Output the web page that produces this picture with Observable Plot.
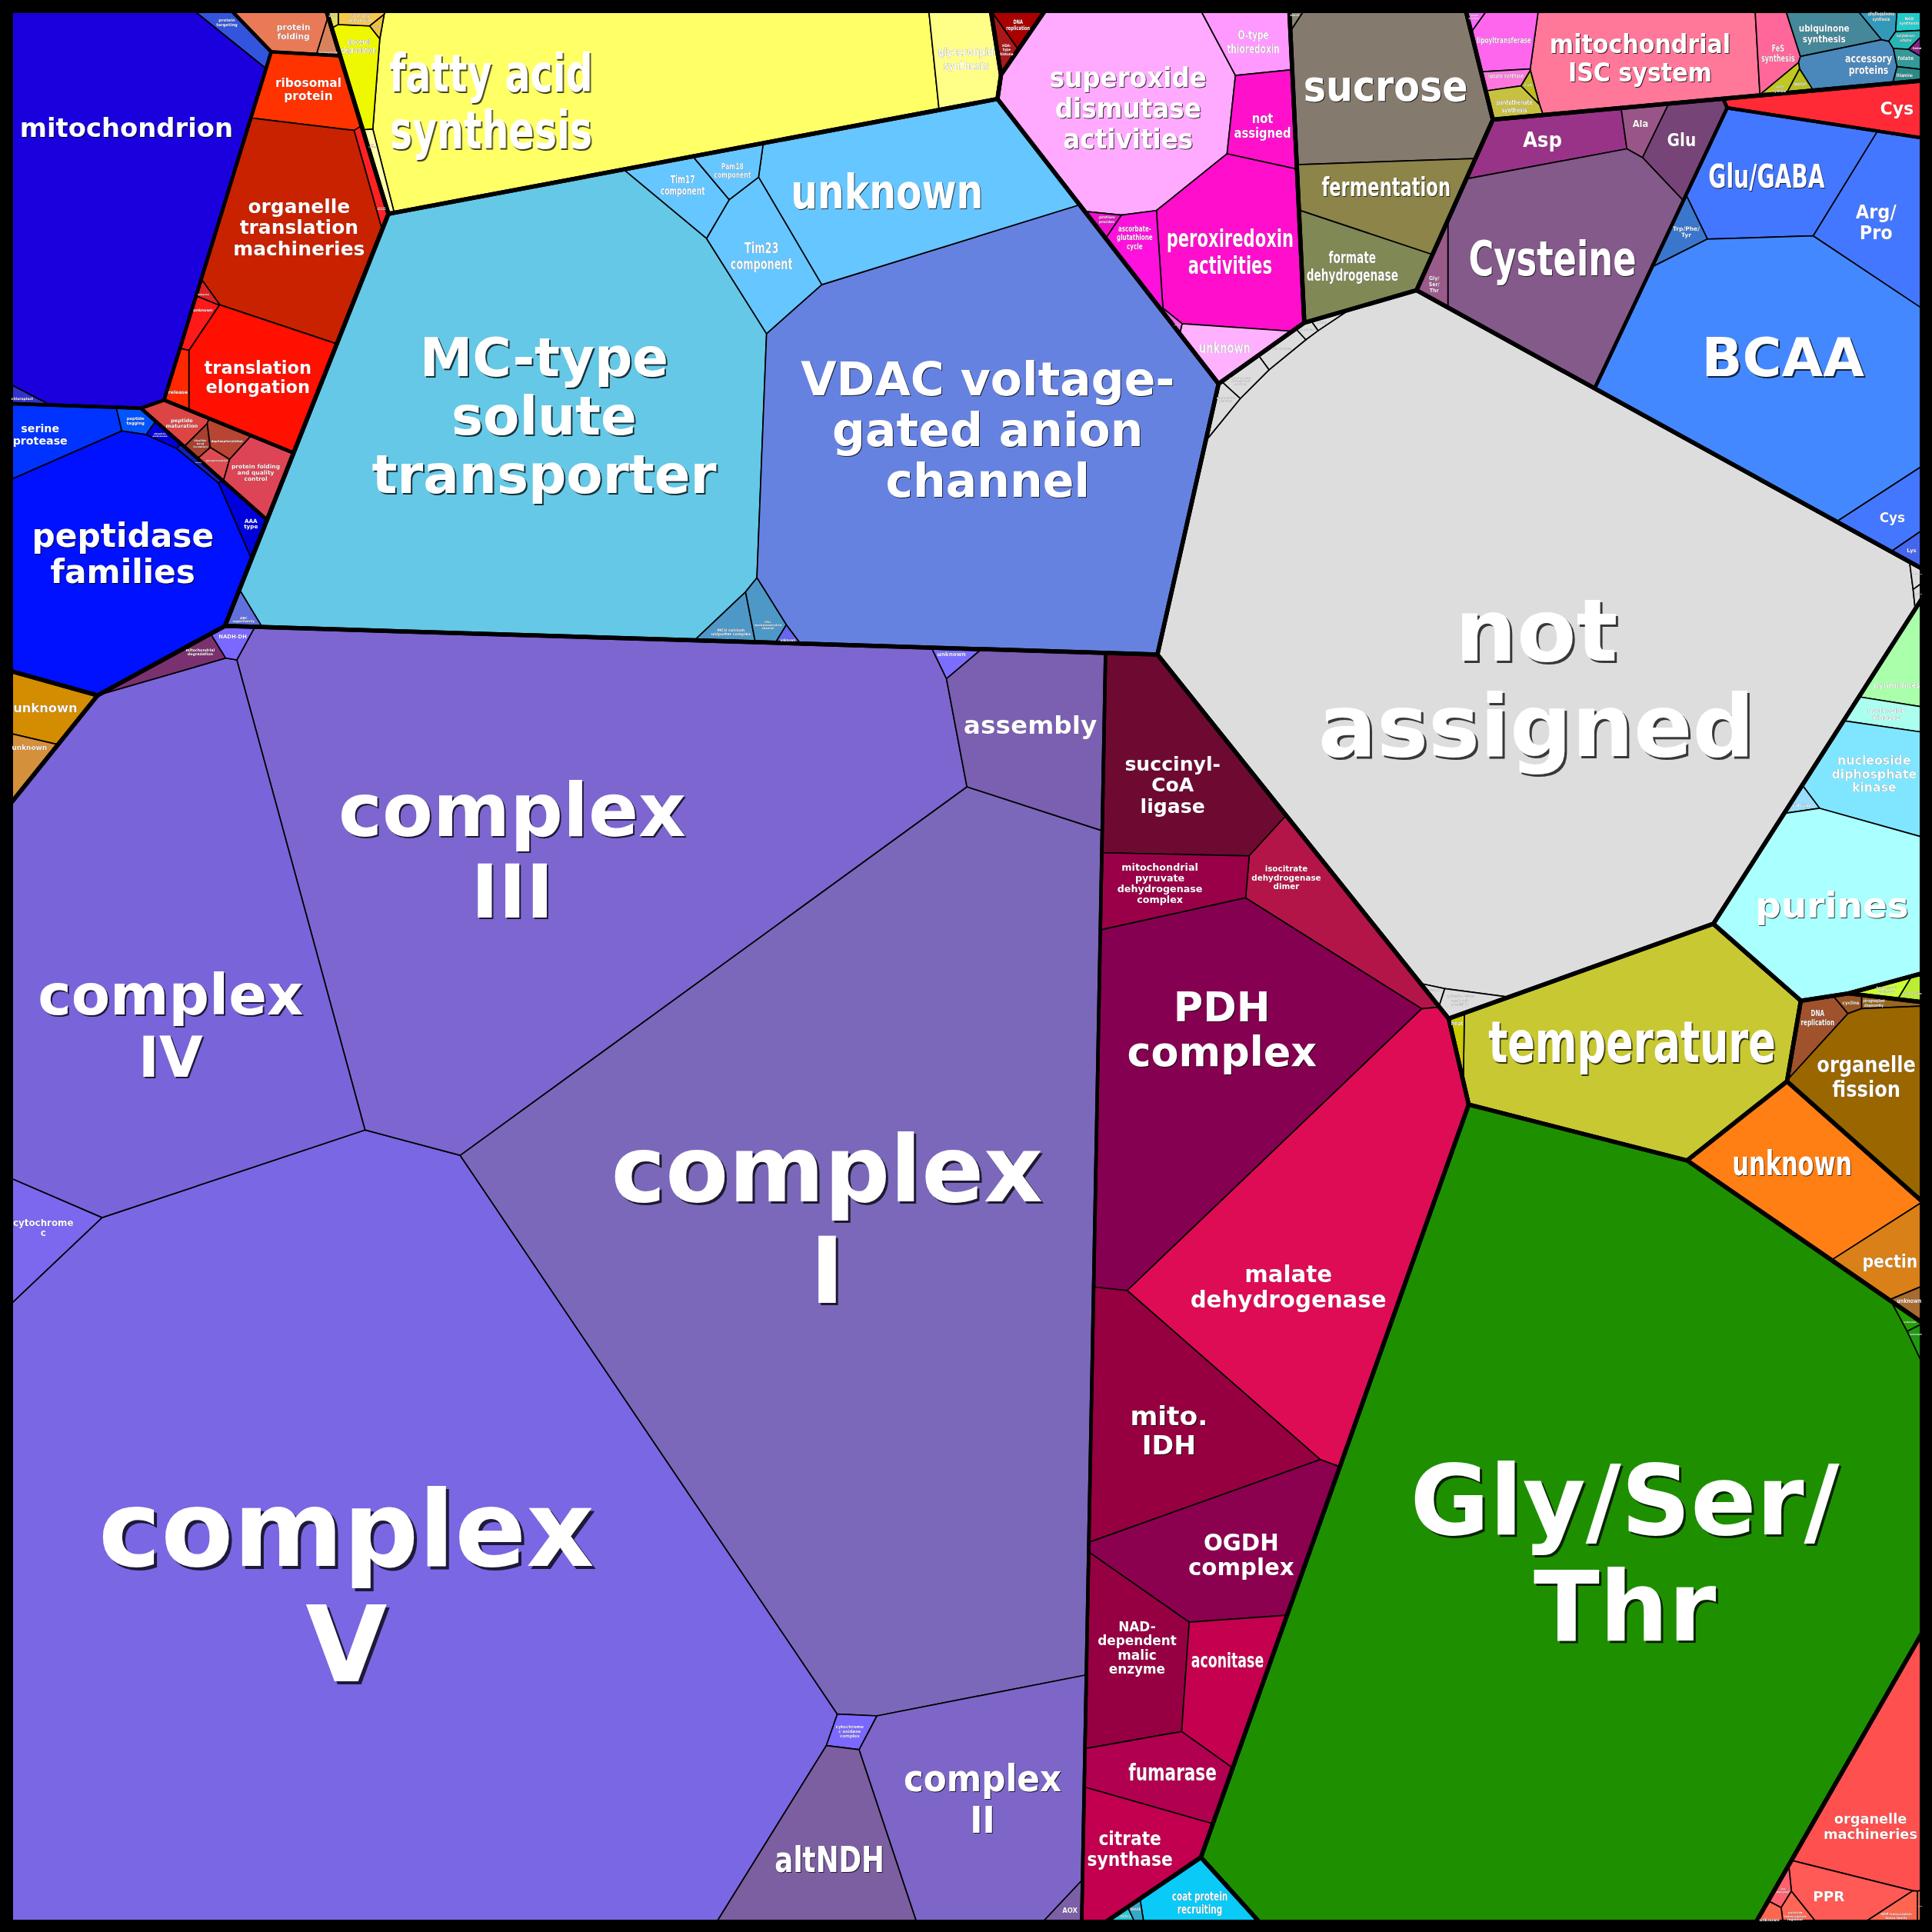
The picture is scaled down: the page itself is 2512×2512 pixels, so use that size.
<!DOCTYPE html>
<html>
<head>
<meta charset="utf-8">
<script src="https://cdn.jsdelivr.net/npm/d3@7"></script>
<script src="https://cdn.jsdelivr.net/npm/@observablehq/plot@0.6"></script>
<style>
  html, body { margin: 0; padding: 0; background: #000; }
  #chart { width: 2512px; height: 2512px; }
</style>
</head>
<body>
<div id="chart"></div>
<script>
// ---------------- DATA ----------------
// top-level sectors and their layout seeds (chart units 8..1561)
const sectors = ["protein","unknown","solute transport","lipid metabolism","chromatin organisation","redox homeostasis","carbohydrate metabolism","coenzyme metabolism","amino acid metabolism","not assigned","nucleotide metabolism","external stimuli response","cell cycle organisation","secondary metabolism","cell wall organisation","photorespiration","RNA processing","vesicle trafficking","cellular respiration"];
const sectorSeeds = [[141,190],[33,576],[620,380],[560,62],[812,22],[955,120],[1122,112],[1380,48],[1397,235],[1240,520],[1505,690],[1360,855],[1535,885],[1542,826],[1455,975],[1255,1265],[1525,1420],[947,1543],[600,1032]];

// second-level groups: [sector, group]
const groups = [
  ["protein","protein targeting"],["protein","protein folding"],["protein","protein biosynthesis"],["protein","protein modification"],["protein","protein homeostasis"],
  ["unknown","unknown"],["solute transport","solute transport"],["lipid metabolism","lipid metabolism"],["chromatin organisation","chromatin organisation"],
  ["redox homeostasis","redox homeostasis"],["carbohydrate metabolism","carbohydrate metabolism"],["coenzyme metabolism","coenzyme metabolism"],
  ["amino acid metabolism","Cys degradation"],["amino acid metabolism","amino acid biosynthesis"],["amino acid metabolism","amino acid degradation"],
  ["not assigned","not assigned"],["nucleotide metabolism","nucleotide metabolism"],["external stimuli response","temperature"],
  ["cell cycle organisation","cell cycle organisation"],["secondary metabolism","secondary metabolism"],["cell wall organisation","cell wall organisation"],
  ["photorespiration","photorespiration"],["RNA processing","RNA processing"],["vesicle trafficking","vesicle trafficking"],
  ["cellular respiration","TCA cycle"],["cellular respiration","oxidative phosphorylation"]
];
const groupSeeds = [[105,160],[245,25],[235,200],[173,352],[95,440],[33,576],[620,380],[560,62],[812,22],[955,120],[1122,112],[1380,48],[1482,95],[1275,185],[1455,270],[1240,520],[1505,690],[1360,855],[1535,885],[1542,826],[1455,975],[1255,1265],[1525,1420],[947,1543],[985,1050],[453,1040]];

// leaves: [group, label, value]
const leaves = [
  ["protein targeting","mitochondrion",53.2],["protein targeting","protein\ntargeting",1.0],["protein targeting","chloroplast",0.25],
  ["protein folding","protein\nfolding",2.0],["protein folding","co-chaperone",0.3],
  ["protein biosynthesis","ribosomal\nprotein",4.2],["protein biosynthesis","organelle\ntranslation\nmachineries",18.8],["protein biosynthesis","cytosolic\nribosome",0.6],["protein biosynthesis","translation\nelongation",9.4],["protein biosynthesis","release",0.65],["protein biosynthesis","unknown",0.6],["protein biosynthesis","initiation",0.15],
  ["protein modification","peptide\nmaturation",1.0],["protein modification","disulfide\nbond\nformation",0.3],["protein modification","dephosphorylation",0.65],["protein modification","phosphorylation",0.35],["protein modification","protein folding\nand quality\ncontrol",2.2],
  ["protein homeostasis","serine\nprotease",3.6],["protein homeostasis","peptide\ntagging",0.5],["protein homeostasis","ubiquitin-\nproteasome",0.25],["protein homeostasis","autophagy",0.2],["protein homeostasis","AAA\ntype",0.9],["protein homeostasis","peptidase\nfamilies",31.5],
  ["unknown","unknown",2.7],["unknown","unknown",1.1],
  ["solute transport","MC-type\nsolute\ntransporter",125.5],["solute transport","VDAC voltage-\ngated anion\nchannel",108.0],["solute transport","unknown",23.7],["solute transport","Tim23\ncomponent",6.0],["solute transport","Tim17\ncomponent",2.7],["solute transport","Pam18\ncomponent",1.45],["solute transport","MCU calcium\nuniporter complex",1.0],["solute transport","MSL\nmechanosensitive\nchannel",1.0],["solute transport","unknown",0.15],["solute transport","ABC\nsuperfamily",0.45],
  ["lipid metabolism","fatty acid\nsynthesis",55.5],["lipid metabolism","glycerolipid\nsynthesis",3.9],["lipid metabolism","glycerol\ndegradation",2.0],["lipid metabolism","fatty acid\ndegradation",0.4],["lipid metabolism","lipid\ntrafficking",0.45],["lipid metabolism","phospholipid",0.1],["lipid metabolism","sterol",0.1],
  ["chromatin organisation","DNA\nreplication",0.7],["chromatin organisation","HDA-\ntype\nhistone",0.45],
  ["redox homeostasis","superoxide\ndismutase\nactivities",24.5],["redox homeostasis","O-type\nthioredoxin",3.0],["redox homeostasis","not\nassigned",3.7],["redox homeostasis","peroxiredoxin\nactivities",14.3],["redox homeostasis","ascorbate-\nglutathione\ncycle",2.0],["redox homeostasis","glutathione\nperoxidase",0.3],["redox homeostasis","unknown",2.25],["redox homeostasis","glutaredoxin",0.1],
  ["carbohydrate metabolism","sucrose",18.5],["carbohydrate metabolism","fermentation",7.5],["carbohydrate metabolism","formate\ndehydrogenase",6.0],["carbohydrate metabolism","starch",0.1],
  ["coenzyme metabolism","mitochondrial\nISC system",13.9],["coenzyme metabolism","FeS\nsynthesis",1.7],["coenzyme metabolism","ubiquinone\nsynthesis",2.0],["coenzyme metabolism","accessory\nproteins",2.4],["coenzyme metabolism","biotin\nsynthase",0.3],["coenzyme metabolism","biotin",0.2],["coenzyme metabolism","phylloquinone\nsynthesis",0.5],["coenzyme metabolism","NAD\nsynthesis",0.35],["coenzyme metabolism","molybdenum\ncofactor",0.3],["coenzyme metabolism","folate",0.3],["coenzyme metabolism","thiamine",0.25],["coenzyme metabolism","lipoyltransferase",2.25],["coenzyme metabolism","lipoate\nsynthesis",0.15],["coenzyme metabolism","lipoate synthase",0.5],["coenzyme metabolism","pantothenate\nsynthesis",0.9],["coenzyme metabolism","CoA",0.15],["coenzyme metabolism","heme",0.1],
  ["Cys degradation","Cys",4.3],
  ["amino acid biosynthesis","Asp",4.6],["amino acid biosynthesis","Ala",1.0],["amino acid biosynthesis","Glu",3.1],["amino acid biosynthesis","Cysteine",24.6],["amino acid biosynthesis","Gly/\nSer/\nThr",0.9],
  ["amino acid degradation","Glu/GABA",11.4],["amino acid degradation","Arg/\nPro",7.8],["amino acid degradation","Trp/Phe/\nTyr",1.0],["amino acid degradation","BCAA",42.5],["amino acid degradation","Cys",2.5],["amino acid degradation","Lys",0.4],
  ["not assigned","not\nassigned",224.0],["not assigned","enzyme\nclassification",0.15],["not assigned","annotated",0.15],["not assigned","unknown",0.5],["not assigned","cytoskeleton\nassociated\nprotein",0.6],["not assigned","membrane\nprotein",0.5],["not assigned","cytoskeleton\nand cell\nmotility",0.7],["not assigned","kinase",0.15],["not assigned","transferase",0.15],["not assigned","hydrolase",0.1],
  ["nucleotide metabolism","pyrimidines",2.27],["nucleotide metabolism","nucleoside\nkinases",1.2],["nucleotide metabolism","nucleoside\ndiphosphate\nkinase",6.57],["nucleotide metabolism","salvage",0.3],["nucleotide metabolism","purines",19.4],
  ["temperature","temperature",34.9],["temperature","heat",0.35],
  ["cell cycle organisation","DNA\nreplication",1.5],["cell cycle organisation","cyclins",0.25],["cell cycle organisation","phragmoplast\ndisassembly",0.35],["cell cycle organisation","organelle\nfission",10.3],
  ["secondary metabolism","terpenoid\npathway",0.4],["secondary metabolism","isoprenoids",0.3],
  ["cell wall organisation","unknown",13.2],["cell wall organisation","pectin",3.2],["cell wall organisation","unknown",0.4],
  ["photorespiration","Gly/Ser/\nThr",278.3],["photorespiration","unknown",0.2],["photorespiration","unknown",0.2],
  ["RNA processing","organelle\nmachineries",11.2],["RNA processing","PPR",3.0],["RNA processing","not\nassigned",0.3],["RNA processing","putative\ntranscription\nregulator",0.4],["RNA processing","bZIP transcription\nfactor family",0.6],["RNA processing","unknown",0.25],["RNA processing","RNA editing",0.1],
  ["vesicle trafficking","coat protein\nrecruiting",3.0],["vesicle trafficking","clathrin",0.15],["vesicle trafficking","SNARE",0.15],
  ["TCA cycle","succinyl-\nCoA\nligase",16.7],["TCA cycle","isocitrate\ndehydrogenase\ndimer",7.9],["TCA cycle","mitochondrial\npyruvate\ndehydrogenase\ncomplex",5.7],["TCA cycle","PDH\ncomplex",48.4],["TCA cycle","malate\ndehydrogenase",47.7],["TCA cycle","mito.\nIDH",20.9],["TCA cycle","OGDH\ncomplex",15.1],["TCA cycle","NAD-\ndependent\nmalic\nenzyme",10.0],["TCA cycle","aconitase",6.7],["TCA cycle","fumarase",5.9],["TCA cycle","citrate\nsynthase",7.3],
  ["oxidative phosphorylation","complex\nV",330.5],["oxidative phosphorylation","complex\nI",250.9],["oxidative phosphorylation","complex\nIII",162.6],["oxidative phosphorylation","complex\nIV",94.7],["oxidative phosphorylation","cytochrome\nc",3.8],["oxidative phosphorylation","mitochondrial\ndegradation",1.2],["oxidative phosphorylation","NADH-DH",0.6],["oxidative phosphorylation","assembly",15.0],["oxidative phosphorylation","unknown",0.5],["oxidative phosphorylation","cytochrome\nc oxidase\ncomplex",0.8],["oxidative phosphorylation","altNDH",13.4],["oxidative phosphorylation","complex\nII",29.2],["oxidative phosphorylation","AOX",0.55]
];

// layout seeds of the leaves (same order as leaves)
const leafSeeds = [
  [100,165],[210,28],[20,318],
  [240,24],[266,32],
  [258,77],[245,185],[316,165],[205,305],[145,305],[153,270],[164,243],
  [135,327],[152,344],[176,341],[165,359],[210,372],
  [50,352],[113,337],[140,356],[162,374],[199,410],[95,455],
  [33,565],[22,612],
  [420,360],[800,375],[735,165],[655,212],[580,168],[605,147],[561,509],[597,502],[615,513],[186,502],
  [520,75],[780,48],[300,58],[302,14],[305,130],[323,40],[276,14],
  [832,18],[812,32],
  [915,88],[1020,32],[1027,100],[1005,200],[930,205],[905,188],[1000,272],[955,262],
  [1132,62],[1135,150],[1115,210],[1056,12],
  [1350,48],[1455,42],[1505,26],[1512,60],[1475,66],[1490,74],[1522,12],[1552,14],[1553,34],[1552,52],[1550,70],[1235,32],[1210,14],[1237,65],[1240,86],[1252,74],[1559,40],
  [1482,95],
  [1262,116],[1340,105],[1375,122],[1280,212],[1182,212],
  [1445,152],[1528,203],[1381,183],[1450,320],[1528,440],[1550,472],
  [1240,522],[1061,256],[1050,264],[1038,275],[1012,294],[990,318],[1200,823],[1178,816],[1548,482],[1553,489],
  [1545,522],[1537,572],[1530,620],[1482,656],[1495,745],
  [1315,862],[1192,860],
  [1465,858],[1494,834],[1519,834],[1522,910],
  [1535,822],[1553,833],
  [1480,972],[1535,1058],[1550,1094],
  [1275,1250],[1548,1104],[1555,1118],
  [1530,1430],[1505,1530],[1456,1535],[1480,1550],[1520,1553],[1446,1554],[1557,1553],
  [950,1540],[893,1553],[906,1547],
  [945,605],[1060,710],[943,700],[975,845],[1085,960],[945,1120],[985,1232],[920,1325],[992,1330],[935,1410],[915,1480],
  [300,1280],[700,1010],[460,680],[130,770],[32,997],[75,580],[170,521],[830,610],[765,533],[682,1413],[670,1510],[790,1470],[873,1548]
];

// fill colours (same order as leaves)
const leafColors = [
  "#1A00DD","#3355DD","#3333CC",
  "#E87A58","#D9825E",
  "#FF3300","#C82200","#FF2222","#FF1000","#FF2800","#FF1A1A","#DD2222",
  "#DD4444","#A84030","#B84433","#DD4A50","#DD4455",
  "#0033FF","#0055FF","#0000DD","#1122BB","#0000DD","#0011FF",
  "#D48C00","#D4903A",
  "#64C8E6","#6682E0","#66C6FF","#66C6FF","#66C6FF","#66C6FF","#4E98C8","#4E98C8","#6666EE","#6070DD",
  "#FFFF66","#FFFF88","#EEF800","#F8C848","#FFFFAA","#F0C040","#E0E060",
  "#AA0000","#AA1818",
  "#FFAAFF","#FF99FF","#FF11CC","#FF0ECC","#FF11DD","#EE11CC","#FFB0FF","#FF66EE",
  "#857A6E","#8C8448","#808855","#888877",
  "#FF7799","#FF6699","#448899","#4A88BB","#C0C820","#B8C020","#3399BB","#22CCCC","#2AB5B5","#339999","#2A8A8A","#FF66EE","#FF66FF","#FF77DD","#C8C040","#BBBB22","#882288",
  "#FF2A35",
  "#993388","#995588","#774477","#835A8A","#9A5A8A",
  "#4477FF","#4477FF","#3A77CC","#4488FF","#4477FF","#4466EE",
  "#DDDDDD","#DDDDDD","#DDDDDD","#DDDDDD","#DDDDDD","#DDDDDD","#DDDDDD","#DDDDDD","#DDDDDD","#DDDDDD",
  "#AAFFAA","#AAFFEE","#80E6FF","#99DDFF","#AAFFFF",
  "#C8C832","#CCCC00",
  "#A0522D","#995522","#996620","#996600",
  "#CCFF33","#BBEE33",
  "#FF7F15","#D98018","#A86A30",
  "#1E9000","#22A000","#1E9A10",
  "#FF5050","#FF5A55","#FF6070","#FF6655","#FF6650","#FF6650","#FF7755",
  "#0ACAF8","#22CCDD","#33AACC",
  "#6E0A32","#B41548","#9A0048","#850050","#DD0C55","#960040","#8C0050","#960042","#C4004F","#B0004F","#C2004F",
  "#7A67E3","#7B68BB","#7D66D0","#7A64DA","#7B68EE","#7B3170","#7B68FF","#7B5FB0","#7B6EFF","#7B68FF","#7B5FA0","#7D66C8","#7B60A8"
];

// label styling: which labels use the condensed face
const condensedGroups = new Set(["lipid metabolism","redox homeostasis","carbohydrate metabolism","coenzyme metabolism","amino acid biosynthesis","temperature","cell cycle organisation","cell wall organisation","vesicle trafficking","chromatin organisation"]);
const condensedLeaves = new Set(["solute transport|unknown","solute transport|Tim23\ncomponent","solute transport|Tim17\ncomponent","solute transport|Pam18\ncomponent","TCA cycle|fumarase","TCA cycle|citrate\nsynthase","TCA cycle|aconitase","oxidative phosphorylation|altNDH","oxidative phosphorylation|complex\nII","oxidative phosphorylation|AOX","amino acid degradation|Glu/GABA","amino acid degradation|Arg/\nPro"]);
const LINE_H = 1.1;

// ---------------- VORONOI (power diagram) TREEMAP LAYOUT ----------------
const LO = 8, HI = 1561;
const K = 2486 / (HI - LO); // chart unit -> pixel

function polyArea(P) { let s = 0; for (let i = 0; i < P.length; i++) { const p = P[i], q = P[(i + 1) % P.length]; s += p.x * q.y - q.x * p.y; } return s / 2; }
function polyCentroid(P) {
  let a = 0, cx = 0, cy = 0;
  for (let i = 0; i < P.length; i++) { const p = P[i], q = P[(i + 1) % P.length]; const f = p.x * q.y - q.x * p.y; a += f; cx += (p.x + q.x) * f; cy += (p.y + q.y) * f; }
  a /= 2; if (Math.abs(a) < 1e-12) return {x: P[0].x, y: P[0].y};
  return {x: cx / (6 * a), y: cy / (6 * a)};
}
function clipPoly(P, a, b, c, id) {
  const out = [], n = P.length;
  for (let i = 0; i < n; i++) {
    const p = P[i], q = P[(i + 1) % n];
    const fp = a * p.x + b * p.y - c, fq = a * q.x + b * q.y - c;
    if (fp <= 0) {
      out.push(p);
      if (fq > 0) { const t = fp / (fp - fq); out.push({x: p.x + t * (q.x - p.x), y: p.y + t * (q.y - p.y), e: id}); }
    } else if (fq <= 0) {
      const t = fp / (fp - fq); out.push({x: p.x + t * (q.x - p.x), y: p.y + t * (q.y - p.y), e: p.e});
    }
  }
  return out;
}
function powerCells(S, W, base) {
  const n = S.length, out = new Array(n);
  for (let i = 0; i < n; i++) {
    let P = base; const sx = S[i][0], sy = S[i][1], s2 = sx * sx + sy * sy;
    for (let j = 0; j < n && P.length; j++) {
      if (j === i) continue;
      const tx = S[j][0], ty = S[j][1];
      const a = 2 * (tx - sx), b = 2 * (ty - sy);
      if (a === 0 && b === 0) continue;
      P = clipPoly(P, a, b, tx * tx + ty * ty - s2 - W[j] + W[i], j);
    }
    out[i] = P;
  }
  return out;
}
// adapt weights so that each cell's area matches its value
function solve(S, T, B, iters) {
  const n = S.length;
  const base = (B || []).map(p => ({x: p.x, y: p.y, e: -1}));
  if (n === 0) return [];
  if (base.length < 3) return S.map(() => []);
  if (n === 1) return [base];
  const A0 = Math.abs(polyArea(base)), ts = T.reduce((a, b) => a + b, 0);
  const tgt = T.map(t => t * A0 / ts);
  const W = new Float64Array(n);
  let cells;
  for (let it = 0; it <= iters; it++) {
    cells = powerCells(S, W, base);
    if (it === iters) break;
    const dW = new Float64Array(n);
    for (let i = 0; i < n; i++) {
      const P = cells[i];
      const A = P.length >= 3 ? Math.abs(polyArea(P)) : 0;
      if (A < 1e-7) {
        let m = -Infinity;
        for (let j = 0; j < n; j++) if (j !== i) m = Math.max(m, W[j] - ((S[i][0] - S[j][0]) ** 2 + (S[i][1] - S[j][1]) ** 2));
        dW[i] = Math.max(0, m - W[i]) + 0.5 * tgt[i];
        continue;
      }
      let D = 0;
      for (let k = 0; k < P.length; k++) {
        const p = P[k], q = P[(k + 1) % P.length];
        if (p.e >= 0) {
          const d = Math.hypot(S[p.e][0] - S[i][0], S[p.e][1] - S[i][1]);
          if (d > 1e-9) D += Math.hypot(q.x - p.x, q.y - p.y) / (2 * d);
        }
      }
      dW[i] = 0.5 * (tgt[i] - A) / Math.max(D, 0.25);
    }
    for (let i = 0; i < n; i++) W[i] += dW[i];
  }
  return cells;
}

const frameBox = [[LO, LO], [HI, LO], [HI, HI], [LO, HI]].map(([x, y]) => ({x, y, e: -1}));
const groupValue = groups.map(([, g]) => d3.sum(leaves.filter(l => l[0] === g), l => l[2]));
const sectorValue = sectors.map(s => d3.sum(groups.map((g, i) => g[0] === s ? groupValue[i] : 0)));

const sectorCells = solve(sectorSeeds, sectorValue, frameBox, 900);
const groupCells = new Array(groups.length);
sectors.forEach((s, si) => {
  const idx = d3.range(groups.length).filter(i => groups[i][0] === s);
  const cells = solve(idx.map(i => groupSeeds[i]), idx.map(i => groupValue[i]), sectorCells[si], 700);
  idx.forEach((gi, k) => { groupCells[gi] = cells[k]; });
});
const leafCells = new Array(leaves.length);
groups.forEach(([, g], gi) => {
  const idx = d3.range(leaves.length).filter(i => leaves[i][0] === g);
  const cells = solve(idx.map(i => leafSeeds[i]), idx.map(i => leaves[i][2]), groupCells[gi], 700);
  idx.forEach((li, k) => { leafCells[li] = cells[k]; });
});

// ---------------- LABEL PLACEMENT ----------------
const FAM_N = "'DejaVu Sans', sans-serif";
const FAM_C = "'DejaVu Sans Condensed', 'DejaVu Sans', sans-serif";
const mctx = document.createElement("canvas").getContext("2d");
function emWidth(text, fam) { mctx.font = `bold 100px ${fam}`; return d3.max(text.split("\n"), l => mctx.measureText(l).width) / 100; }
function sdist(P, x, y, o) {
  let d = Infinity;
  for (let i = 0; i < P.length; i++) {
    const p = P[i], q = P[(i + 1) % P.length]; const ex = q.x - p.x, ey = q.y - p.y; const L = Math.hypot(ex, ey);
    if (L < 1e-9) continue;
    d = Math.min(d, o * (ex * (y - p.y) - ey * (x - p.x)) / L);
  }
  return d;
}
function poleOf(P) {
  const o = Math.sign(polyArea(P)) || 1, c = polyCentroid(P);
  const xs = P.map(p => p.x), ys = P.map(p => p.y);
  let cx = (d3.min(xs) + d3.max(xs)) / 2, cy = (d3.min(ys) + d3.max(ys)) / 2;
  let span = Math.max(d3.max(xs) - d3.min(xs), d3.max(ys) - d3.min(ys)) / 2;
  let best = {x: c.x, y: c.y, s: sdist(P, c.x, c.y, o)};
  for (let r = 0; r < 5; r++) {
    for (let gx = -8; gx <= 8; gx++) for (let gy = -8; gy <= 8; gy++) {
      const x = cx + gx * span / 8, y = cy + gy * span / 8;
      const s = sdist(P, x, y, o) - 0.05 * Math.hypot(x - c.x, y - c.y);
      if (s > best.s) best = {x, y, s};
    }
    cx = best.x; cy = best.y; span /= 3;
  }
  return best;
}
function rowExtent(P, y) {
  let a = Infinity, b = -Infinity;
  for (let i = 0; i < P.length; i++) {
    const p = P[i], q = P[(i + 1) % P.length];
    if ((p.y <= y && q.y >= y) || (p.y >= y && q.y <= y)) {
      if (p.y === q.y) { a = Math.min(a, p.x, q.x); b = Math.max(b, p.x, q.x); }
      else { const x = p.x + (y - p.y) / (q.y - p.y) * (q.x - p.x); a = Math.min(a, x); b = Math.max(b, x); }
    }
  }
  return a <= b ? [a, b] : null;
}
function halfWidth(P, cx, cy, h) {
  let hw = Infinity;
  for (const y of [cy - h / 2, cy, cy + h / 2]) { const r = rowExtent(P, y); if (!r) return -1; hw = Math.min(hw, cx - r[0], r[1] - cx); }
  return hw;
}
function fitAt(P, cx, cy, em, n, cap, minSq) {
  const ok = fs => { const hw = halfWidth(P, cx, cy, n * fs * LINE_H); return hw > 0 && em * fs * minSq <= 2 * hw * 0.92; };
  if (ok(cap)) return cap;
  let lo = 0, hi = cap;
  for (let k = 0; k < 22; k++) { const m = (lo + hi) / 2; if (ok(m)) lo = m; else hi = m; }
  return lo;
}

const labN = [], labC = [];
leaves.forEach(([g, text, v], i) => {
  const P = leafCells[i];
  if (!P || P.length < 3) return;
  const A = Math.abs(polyArea(P));
  if (A < 1) return;
  const cond = condensedGroups.has(g) || condensedLeaves.has(g + "|" + text);
  const fam = cond ? FAM_C : FAM_N;
  const n = text.split("\n").length;
  const em = emWidth(text, fam);
  const cap = (cond ? 0.25 : 0.21) * Math.sqrt(A / n);
  const minSq = cond ? 0.75 : 1;
  const pole = poleOf(P);
  const xs = P.map(p => p.x), ys = P.map(p => p.y);
  const x0 = d3.min(xs), x1 = d3.max(xs), y0 = d3.min(ys), y1 = d3.max(ys);
  const cands = [{x: pole.x, y: pole.y}];
  for (let a = 1; a < 10; a++) for (let b = 1; b < 10; b++) cands.push({x: x0 + (x1 - x0) * a / 10, y: y0 + (y1 - y0) * b / 10});
  let bestFs = 0;
  cands.forEach(c => { c.fs = fitAt(P, c.x, c.y, em, n, cap, minSq); bestFs = Math.max(bestFs, c.fs); });
  const good = cands.filter(c => c.fs >= 0.97 * bestFs);
  const pick = d3.least(good, c => Math.hypot(c.x - pole.x, c.y - pole.y));
  const fs = pick.fs;
  if (fs * K < 0.8) return;
  const hw = halfWidth(P, pick.x, pick.y, n * fs * LINE_H);
  const sx = Math.max(0.4, Math.min(1, (2 * hw * 0.92) / (em * fs)));
  (cond ? labC : labN).push({x: pick.x, y: pick.y, text, fs: fs * K, sx});
});

// ---------------- ROWS FOR PLOT ----------------
const leafRows = [];
leaves.forEach((l, i) => { const P = leafCells[i]; if (P && P.length >= 3) P.forEach(p => leafRows.push({id: "L" + i, x: p.x, y: p.y, fill: leafColors[i]})); });
const groupRows = [];
groups.forEach((g, i) => { const P = groupCells[i]; if (P && P.length >= 3) P.forEach(p => groupRows.push({id: "G" + i, x: p.x, y: p.y})); });
const sectorRows = [];
sectors.forEach((s, i) => { const P = sectorCells[i]; if (P && P.length >= 3) P.forEach(p => sectorRows.push({id: "S" + i, x: p.x, y: p.y})); });

const chart = Plot.plot({
  width: 2512, height: 2512,
  marginTop: 13, marginRight: 13, marginBottom: 13, marginLeft: 13,
  x: {domain: [LO, HI], axis: null},
  y: {domain: [LO, HI], reverse: true, axis: null},
  color: {type: "identity"},
  style: {background: "#000"},
  marks: [
    Plot.line(leafRows, {x: "x", y: "y", z: "id", fill: d => d.fill, stroke: "#000", strokeWidth: 1.7, strokeLinejoin: "round", curve: "linear-closed"}),
    Plot.line(groupRows, {x: "x", y: "y", z: "id", fill: "none", stroke: "#000", strokeWidth: 4.5, strokeLinejoin: "round", curve: "linear-closed"}),
    Plot.line(sectorRows, {x: "x", y: "y", z: "id", fill: "none", stroke: "#000", strokeWidth: 5.5, strokeLinejoin: "round", curve: "linear-closed"}),
    Plot.frame({stroke: "#000", strokeWidth: 7}),
    Plot.text(labN, {x: "x", y: "y", text: "text", fontSize: d => d.fs, fill: "#fff", fontFamily: FAM_N, fontWeight: "bold", lineHeight: LINE_H}),
    Plot.text(labC, {x: "x", y: "y", text: "text", fontSize: d => d.fs, fill: "#fff", fontFamily: FAM_C, fontWeight: "bold", lineHeight: LINE_H})
  ]
});

// horizontal squeeze of long labels and a soft drop shadow
function finishLabels(g, labs) {
  if (!g) return;
  g.querySelectorAll("text").forEach((t, i) => {
    const L = labs[i]; if (!L) return;
    let tr = t.getAttribute("transform");
    if (!tr) {
      const x = t.getAttribute("x") || 0, y = t.getAttribute("y") || 0;
      t.removeAttribute("x"); t.removeAttribute("y");
      tr = `translate(${x},${y})`;
    }
    if (L.sx < 0.999) t.setAttribute("transform", `${tr} scale(${L.sx.toFixed(4)},1)`);
    const o = Math.max(0.5, L.fs * 0.03);
    t.style.filter = `drop-shadow(${o.toFixed(2)}px ${o.toFixed(2)}px 0px rgba(0,0,0,0.75))`;
  });
}
const textGroups = chart.querySelectorAll('g[aria-label="text"]');
finishLabels(textGroups[0], labN);
finishLabels(textGroups[1], labC);

document.getElementById("chart").append(chart);
</script>
</body>
</html>
